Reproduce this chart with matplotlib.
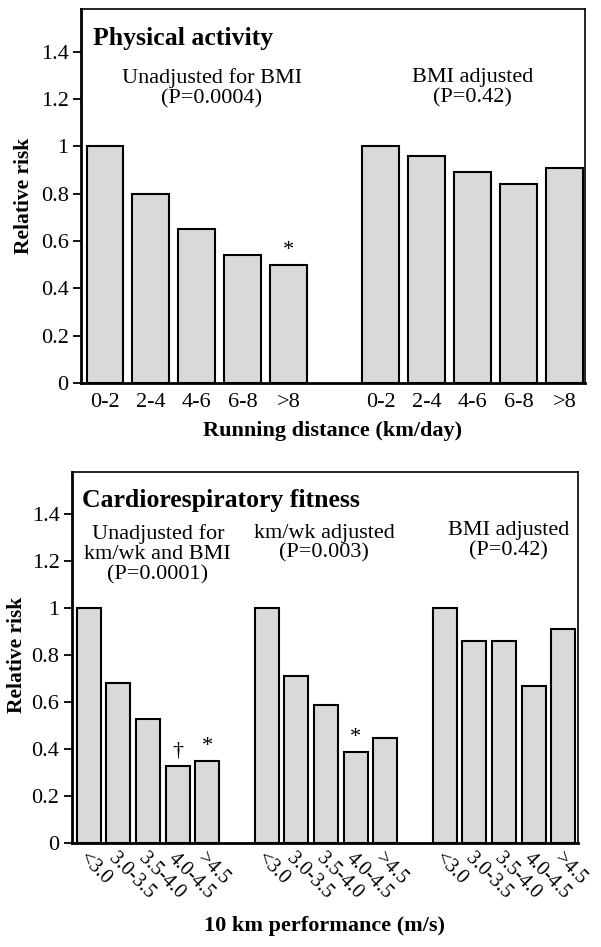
import numpy as np
import matplotlib
matplotlib.use('Agg')
import matplotlib.pyplot as plt

plt.rcParams['font.family'] = ['Liberation Serif', 'DejaVu Serif']

# --- top panel: running distance (km/day)
dist_cats = ['0-2', '2-4', '4-6', '6-8', '>8']
rr_dist_unadj = [1.0, 0.80, 0.65, 0.54, 0.50]
rr_dist_bmi = [1.0, 0.96, 0.89, 0.84, 0.91]

# --- bottom panel: 10 km performance (m/s)
perf_cats = ['<3.0', '3.0-3.5', '3.5-4.0', '4.0-4.5', '>4.5']
rr_perf_unadj = [1.0, 0.68, 0.53, 0.33, 0.35]
rr_perf_kmwk = [1.0, 0.71, 0.59, 0.39, 0.45]
rr_perf_bmi = [1.0, 0.86, 0.86, 0.67, 0.91]

yticks = [0, 0.2, 0.4, 0.6, 0.8, 1.0, 1.2, 1.4]
ytick_labels = ['0', '0.2', '0.4', '0.6', '0.8', '1', '1.2', '1.4']

bar_col = '#d9d9d9'
fs = 16

fig = plt.figure(figsize=(6.01, 9.47), dpi=100)
ax1 = fig.add_axes([0.1348, 0.5956, 0.8386, 0.3949])
ax2 = fig.add_axes([0.1198, 0.1095, 0.8414, 0.3921])


def style_axes(ax):
    ax.set_ylim(0, 1.58)
    ax.set_yticks(yticks)
    ax.set_yticklabels(ytick_labels, fontsize=fs)
    ax.tick_params(axis='y', direction='out', length=6, width=1.3, pad=3)
    ax.tick_params(axis='x', length=0)
    ax.spines['left'].set_linewidth(2)
    ax.spines['bottom'].set_linewidth(2)
    ax.spines['top'].set_linewidth(1.2)
    ax.spines['right'].set_linewidth(1.2)
    ax.set_ylabel('Relative risk', fontsize=15.5, fontweight='bold', va='center')


# ---------- top
groups1 = [rr_dist_unadj, rr_dist_bmi]
xs1 = []
for g, vals in enumerate(groups1):
    x = np.arange(len(vals)) + g * 6
    ax1.bar(x, vals, width=0.8, color=bar_col, edgecolor='black', linewidth=1.5)
    xs1 += list(x)
style_axes(ax1)
ax1.set_xlim(-0.52, 10.45)
ax1.set_xticks(xs1)
ax1.set_xticklabels(dist_cats * 2, fontsize=fs)
ax1.tick_params(axis='x', pad=7)
ax1.set_xlabel('Running distance (km/day)', fontsize=fs, fontweight='bold')
ax1.xaxis.set_label_coords(0.5, -0.128)
ax1.xaxis.label.set_va('center')
ax1.yaxis.set_label_coords(-0.113, 0.5)

ax1.text(0.024, 0.952, 'Physical activity', transform=ax1.transAxes,
         fontsize=18.5, fontweight='bold', va='top', ha='left')
ax1.text(2.33, 1.33, 'Unadjusted for BMI\n(P=0.0004)', ha='center', va='top',
         fontsize=fs, linespacing=1.05)
ax1.text(8.0, 1.33, 'BMI adjusted\n(P=0.42)', ha='center', va='top',
         fontsize=fs, linespacing=1.05)
ax1.text(4, rr_dist_unadj[4] + 0.02, '*', ha='center', va='bottom', fontsize=fs)

# ---------- bottom
groups2 = [rr_perf_unadj, rr_perf_kmwk, rr_perf_bmi]
xs2 = []
for g, vals in enumerate(groups2):
    x = np.arange(len(vals)) + g * 6
    ax2.bar(x, vals, width=0.81, color=bar_col, edgecolor='black', linewidth=1.5)
    xs2 += list(x)
style_axes(ax2)
ax2.set_xlim(-0.56, 16.48)
ax2.set_xticks(xs2)
ax2.set_xticklabels(perf_cats * 3, fontsize=14.5, rotation=-45, ha='left',
                    va='top', rotation_mode='anchor')
ax2.tick_params(axis='x', pad=4)
ax2.set_xlabel('10 km performance (m/s)', fontsize=fs, fontweight='bold')
ax2.xaxis.set_label_coords(0.5, -0.223)
ax2.xaxis.label.set_va('center')
ax2.yaxis.set_label_coords(-0.109, 0.507)

ax2.text(0.02, 0.955, 'Cardiorespiratory fitness', transform=ax2.transAxes,
         fontsize=18.5, fontweight='bold', va='top', ha='left')
ax2.text(2.33, 1.36, 'Unadjusted for\nkm/wk and BMI\n(P=0.0001)', ha='center',
         va='top', fontsize=fs, linespacing=1.1)
ax2.text(7.93, 1.36, 'km/wk adjusted\n(P=0.003)', ha='center', va='top',
         fontsize=fs, linespacing=1.05)
ax2.text(14.16, 1.37, 'BMI adjusted\n(P=0.42)', ha='center', va='top',
         fontsize=fs, linespacing=1.05)
ax2.text(3, rr_perf_unadj[3] + 0.02, '\u2020', ha='center', va='bottom', fontsize=fs)
ax2.text(4, rr_perf_unadj[4] + 0.02, '*', ha='center', va='bottom', fontsize=fs)
ax2.text(9, rr_perf_kmwk[3] + 0.02, '*', ha='center', va='bottom', fontsize=fs)

fig.savefig('out.png', dpi=100)
